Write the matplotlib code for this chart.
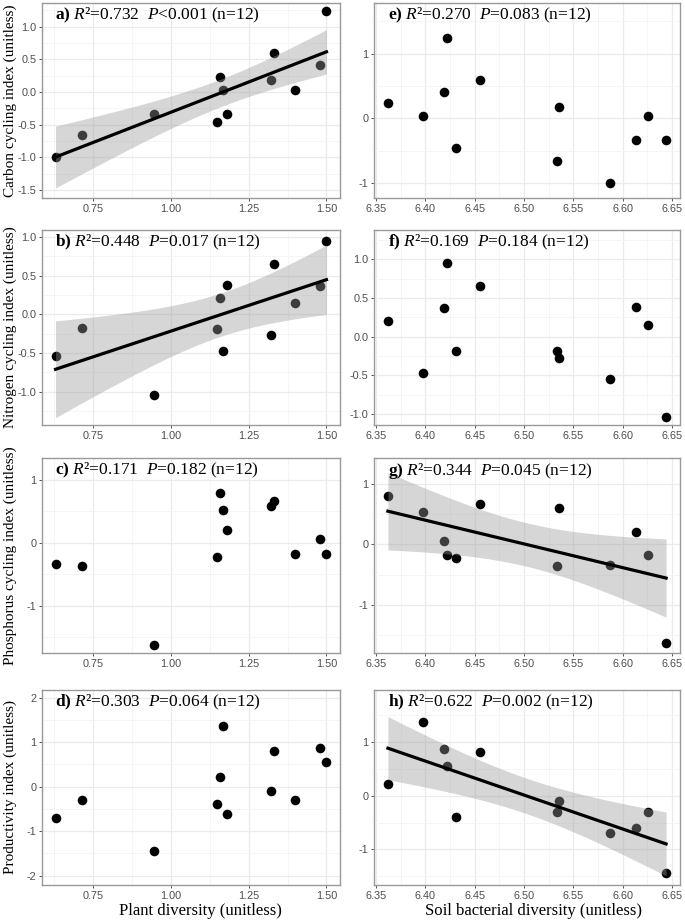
import numpy as np
import matplotlib
matplotlib.use("Agg")
import matplotlib.pyplot as plt
from matplotlib.ticker import FormatStrFormatter

# Datos por sitio (n=12)
plant_div = [0.63, 0.715, 0.945, 1.148, 1.158, 1.168, 1.18, 1.322, 1.33, 1.40, 1.48, 1.50]
bact_div = [6.587, 6.533, 6.644, 6.431, 6.362, 6.398, 6.613, 6.535, 6.455, 6.626, 6.419, 6.422]

carbon = [-1.0, -0.66, -0.33, -0.46, 0.23, 0.03, -0.33, 0.18, 0.59, 0.03, 0.41, 1.24]
nitrogen = [-0.54, -0.18, -1.04, -0.19, 0.21, -0.47, 0.38, -0.27, 0.65, 0.15, 0.37, 0.95]
phosphorus = [-0.34, -0.36, -1.62, -0.23, 0.80, 0.53, 0.21, 0.59, 0.67, -0.17, 0.06, -0.17]
productivity = [-0.70, -0.31, -1.44, -0.39, 0.22, 1.37, -0.61, -0.10, 0.80, -0.30, 0.87, 0.55]

index_names = ["Carbon cycling index (unitless)", "Nitrogen cycling index (unitless)",
               "Phosphorus cycling index (unitless)", "Productivity index (unitless)"]

# Estadisticos de cada panel
letters_plant = ["a)", "b)", "c)", "d)"]
r2_plant = ["0.732", "0.448", "0.171", "0.303"]
p_plant = ["<0.001", "=0.017", "=0.182", "=0.064"]
signif_plant = [True, True, False, False]

letters_bact = ["e)", "f)", "g)", "h)"]
r2_bact = ["0.270", "0.169", "0.344", "0.622"]
p_bact = ["=0.083", "=0.184", "=0.045", "=0.002"]
signif_bact = [False, False, True, True]

# Ticks del eje y
yticks_plant = [[-1.5, -1.0, -0.5, 0.0, 0.5, 1.0], [-1.0, -0.5, 0.0, 0.5, 1.0], [-1, 0, 1], [-2, -1, 0, 1, 2]]
yticks_bact = [[-1, 0, 1], [-1.0, -0.5, 0.0, 0.5, 1.0], [-1, 0, 1], [-1, 0, 1]]
ylims_plant = [(-1.62, 1.36), (-1.43, 1.09), (-1.75, 1.35), (-2.21, 2.17)]
ylims_bact = [(-1.23, 1.78), (-1.14, 1.38), (-1.79, 1.42), (-1.66, 1.96)]
xticks_plant = [0.75, 1.00, 1.25, 1.50]
xticks_bact = [6.35, 6.40, 6.45, 6.50, 6.55, 6.60, 6.65]

plt.rcParams['font.family'] = ['Liberation Serif', 'DejaVu Serif']
plt.rcParams['mathtext.fontset'] = 'custom'
plt.rcParams['mathtext.rm'] = 'Liberation Serif'
plt.rcParams['mathtext.it'] = 'Liberation Serif:italic'
plt.rcParams['mathtext.bf'] = 'Liberation Serif:bold'
plt.rcParams['axes.unicode_minus'] = False

T_CRIT = 2.228  # t(0.975, gl=10)


def fit_band(x, y):
    """Recta OLS con banda de confianza del 95%."""
    x = np.asarray(x)
    y = np.asarray(y)
    n = len(x)
    slope, icpt = np.polyfit(x, y, 1)
    xs = np.linspace(x.min(), x.max(), 100)
    yhat = icpt + slope * xs
    resid = y - (icpt + slope * x)
    s = np.sqrt(np.sum(resid ** 2) / (n - 2))
    sxx = np.sum((x - x.mean()) ** 2)
    se = s * np.sqrt(1 / n + (xs - x.mean()) ** 2 / sxx)
    return xs, yhat, yhat - T_CRIT * se, yhat + T_CRIT * se


def draw_panel(ax, x, y, letter, r2, p, signif, yticks, ylim, xticks, fmt_x):
    ax.scatter(x, y, s=48, color='black', zorder=2, linewidths=0)
    if signif:
        xs, yhat, lo, hi = fit_band(x, y)
        ax.fill_between(xs, lo, hi, color='#999999', alpha=0.4, linewidth=0, zorder=3)
        ax.plot(xs, yhat, color='black', lw=2.3, zorder=4)

    pad = 0.05 * (max(x) - min(x))

    ax.set_xticks(xticks)
    ax.set_yticks(yticks)
    # lineas menores a mitad de camino, como en ggplot
    step_x = xticks[1] - xticks[0]
    minor_x = [t - step_x / 2 for t in xticks] + [xticks[-1] + step_x / 2]
    step_y = yticks[1] - yticks[0]
    minor_y = [t - step_y / 2 for t in yticks] + [yticks[-1] + step_y / 2]
    ax.set_xticks(minor_x, minor=True)
    ax.set_yticks(minor_y, minor=True)
    ax.set_xlim(min(x) - pad, max(x) + pad)
    ax.set_ylim(*ylim)

    ax.xaxis.set_major_formatter(FormatStrFormatter(fmt_x))
    if isinstance(yticks[0], float):
        ax.yaxis.set_major_formatter(FormatStrFormatter('%.1f'))
    else:
        ax.yaxis.set_major_formatter(FormatStrFormatter('%d'))

    ax.grid(which='major', color='#ebebeb', lw=0.9, zorder=0)
    ax.grid(which='minor', color='#f4f4f4', lw=0.6, zorder=0)
    ax.set_axisbelow(True)
    ax.tick_params(which='major', length=2.5, width=0.7, color='#555555',
                   labelsize=7.8, labelcolor='#4d4d4d', pad=1.5)
    ax.tick_params(which='minor', length=0)
    for lab in ax.get_xticklabels() + ax.get_yticklabels():
        lab.set_family('Liberation Sans')
    for sp in ax.spines.values():
        sp.set_color('#9a9a9a')
        sp.set_linewidth(1.0)

    txt = r"$\mathbf{" + letter + "}$ $R$²=" + r2 + "  $P$" + p + " (n=12)"
    ax.text(0.045, 0.985, txt, transform=ax.transAxes, ha='left', va='top', fontsize=12.5, zorder=5)


fig = plt.figure(figsize=(6.85, 9.23), dpi=100)

row_bottoms = [1 - 198 / 923, 1 - 425 / 923, 1 - 653 / 923, 1 - 885 / 923]
row_h = 195 / 923
left_x, left_w = 42 / 685, 298 / 685
right_x, right_w = 374 / 685, 306 / 685

indices = [carbon, nitrogen, phosphorus, productivity]

for i, y in enumerate(indices):
    axl = fig.add_axes([left_x, row_bottoms[i], left_w, row_h])
    draw_panel(axl, plant_div, y, letters_plant[i], r2_plant[i], p_plant[i], signif_plant[i],
               yticks_plant[i], ylims_plant[i], xticks_plant, '%.2f')
    axl.set_ylabel(index_names[i], fontsize=11)
    axl.yaxis.set_label_coords(-0.083, 0.5)

    axr = fig.add_axes([right_x, row_bottoms[i], right_w, row_h])
    draw_panel(axr, bact_div, y, letters_bact[i], r2_bact[i], p_bact[i], signif_bact[i],
               yticks_bact[i], ylims_bact[i], xticks_bact, '%.2f')

    if i == 3:
        axl.set_xlabel("Plant diversity (unitless)", fontsize=12)
        axl.xaxis.set_label_coords(0.53, -0.09)
        axr.set_xlabel("Soil bacterial diversity (unitless)", fontsize=12)
        axr.xaxis.set_label_coords(0.52, -0.09)

plt.savefig('out.png', dpi=100)
